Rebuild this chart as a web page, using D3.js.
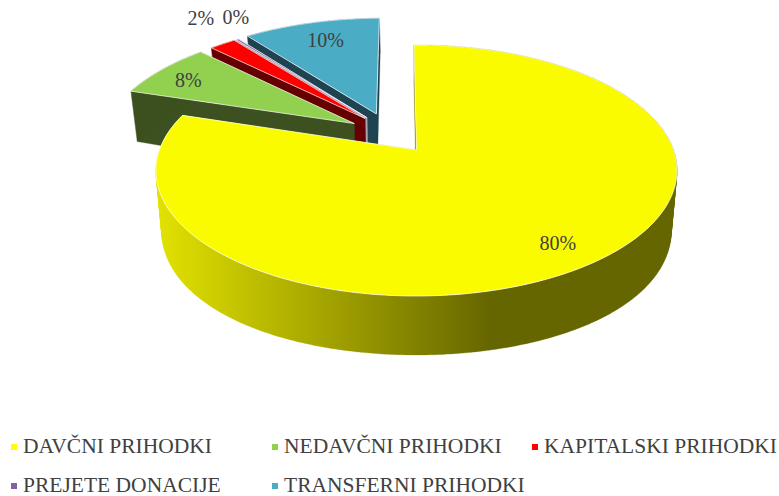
<!DOCTYPE html>
<html><head><meta charset="utf-8">
<script src="https://cdn.jsdelivr.net/npm/d3@7/dist/d3.min.js"></script>
<style>html,body{margin:0;padding:0;background:#fff}svg{display:block}text{font-family:"Liberation Serif",serif;fill:#404040}</style>
</head><body><svg id="c" width="779" height="496"></svg>
<script>
const categories=["DAVČNI PRIHODKI","NEDAVČNI PRIHODKI","KAPITALSKI PRIHODKI","PREJETE DONACIJE","TRANSFERNI PRIHODKI"];
const values=[80,7.5,2,0.2,10.3];
const labels=["80%","8%","2%","0%","10%"];
const topColors=["#fbfb00","#92d050","#ff0000","#8064a2","#4bacc6"];
const wallColors=["url(#yw)","#3c5020","#660000","#a9a3b5","#1f4350"];
const explodeU=[-0.004,-0.255,-0.213,-0.205,-0.168];
const explodeV=[0,-0.225,-0.27,-0.276,-0.31];
const labelR=[0.836,0.83,1.32,1.23,0.782];
const labelTurn=[0.8,-2,4.2,6,0.5];
const legendCols=[0,1,2,0,1];
const legendRows=[0,0,0,1,1];

const svg=d3.select("#c");
const CX=417.5,CY=170.5,RX=260.5,RY=125.5,P=-0.163,ROT=-0.012;
const Q=Math.sqrt(1-P*P);
// perspective map of the unit disk on to the drawn ellipse
function proj(u,v){const w=1+P*v;return [CX+RX*u*Q/w,CY+RY*(v+P)/w];}
function base(pt){const n=(pt[1]-CY)/RY;const h=60+8.93*n-9.93*n*n;
  return [CX+(pt[0]-CX)*0.978,pt[1]+h];}
const pie=d3.pie().sort(null).value(d=>d).startAngle(ROT).endAngle(2*Math.PI+ROT);
const arcs=pie(values);

const defs=svg.append("defs");
const g=defs.append("linearGradient").attr("id","yw").attr("gradientUnits","userSpaceOnUse")
 .attr("x1",157).attr("x2",678).attr("y1",0).attr("y2",0);
g.append("stop").attr("offset",0).attr("stop-color","#e2e200");
g.append("stop").attr("offset",0.64).attr("stop-color","#666600");
g.append("stop").attr("offset",1).attr("stop-color","#666600");

function line(pts,close){const p=d3.path();pts.forEach((q,i)=>i?p.lineTo(q[0],q[1]):p.moveTo(q[0],q[1]));if(close)p.closePath();return p.toString();}
function outer(a,i){const n=Math.max(2,Math.ceil((a.endAngle-a.startAngle)/0.01));
  return d3.range(n+1).map(k=>{const t=a.startAngle+(a.endAngle-a.startAngle)*k/n;
    return proj(explodeU[i]+Math.sin(t),explodeV[i]-Math.cos(t));});}
// every quad wound the same way, so folded parts of the band never cancel
function oriented(q){return d3.polygonArea(q)<0?q.slice().reverse():q;}

// painter's order: the slices furthest back first
[4,3,2,1,0].forEach(i=>{
  const a=arcs[i],rim=outer(a,i),apex=proj(explodeU[i],explodeV[i]);
  const rimB=rim.map(base),apexB=base(apex);
  const s=svg.append("g");
  const quads=[[apex,rim[0],rimB[0],apexB],[apex,rim[rim.length-1],rimB[rimB.length-1],apexB]];
  rim.slice(1).forEach((q,k)=>quads.push([rim[k],q,rimB[k+1],rimB[k]]));
  s.append("path").attr("d",quads.map(q=>line(oriented(q),true)).join(""))
    .attr("fill",wallColors[i]).attr("stroke",wallColors[i]).attr("stroke-width",0.3);
  s.append("path").attr("d",line([apex].concat(rim),true)).attr("fill",topColors[i])
    .attr("stroke","#fff").attr("stroke-opacity",0.8).attr("stroke-width",0.9).attr("stroke-linejoin","round");
});

function labelPos(a,i){const t=(a.startAngle+a.endAngle)/2+labelTurn[i]*Math.PI/180;
  return proj(explodeU[i]+labelR[i]*Math.sin(t),explodeV[i]-labelR[i]*Math.cos(t));}
svg.selectAll("text.v").data(arcs).join("text").attr("class","v")
 .attr("text-anchor","middle").attr("font-size",20).attr("dy","0.33em")
 .attr("x",(a,i)=>labelPos(a,i)[0]).attr("y",(a,i)=>labelPos(a,i)[1])
 .text((a,i)=>labels[i]);

const colX=d3.scaleOrdinal().domain([0,1,2]).range([23,284,544]);
const rowY=d3.scaleOrdinal().domain([0,1]).range([453,492]);
const lg=svg.selectAll("g.l").data(categories).join("g").attr("class","l")
 .attr("transform",(d,i)=>`translate(${colX(legendCols[i])},${rowY(legendRows[i])})`);
lg.append("rect").attr("x",-12).attr("y",-9).attr("width",6).attr("height",6).attr("fill",(d,i)=>i===0?"#ffff00":topColors[i]);
lg.append("text").attr("font-size",21.5).text(d=>d);
</script></body></html>
